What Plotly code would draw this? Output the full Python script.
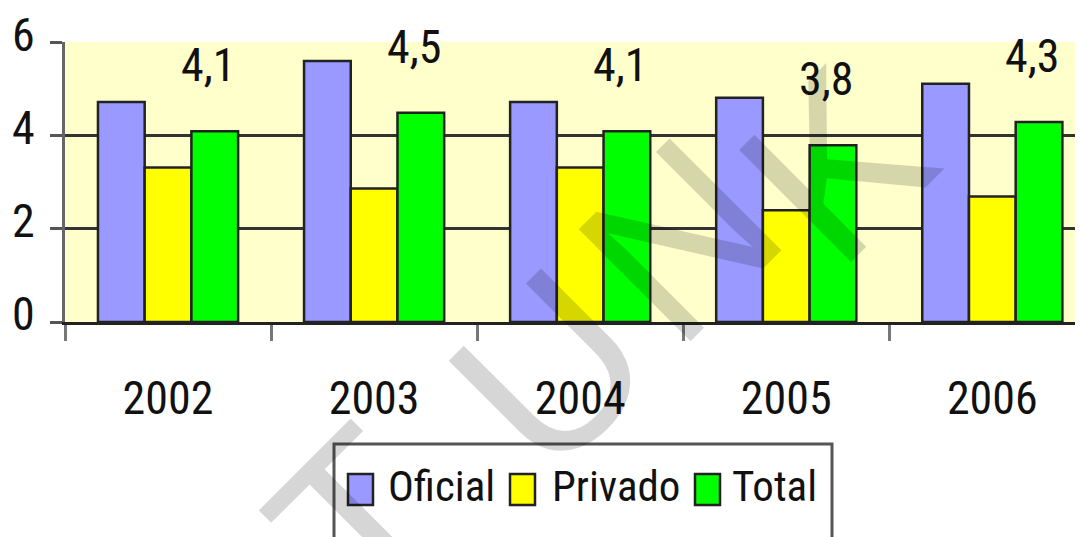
import plotly.graph_objects as go

# data
years = ["2002", "2003", "2004", "2005", "2006"]
oficial = [4.73, 5.61, 4.73, 4.82, 5.12]
privado = [3.32, 2.87, 3.32, 2.40, 2.70]
total = [4.1, 4.5, 4.1, 3.8, 4.3]
total_labels = ["4,1", "4,5", "4,1", "3,8", "4,3"]
series_names = ["Oficial", "Privado", "Total"]
series_colors = ["#9999FF", "#FFFF00", "#00FF00"]
watermark = ["T", "U", "N", "K"]

# the page body adds an 8px margin, so the figure is drawn 8px in from the corner
OFF = 8
W, H = 1083 - OFF, 537 - OFF
L, R, T, B = 65 - OFF, 1083 - OFF, 42 - OFF, 322 - OFF
FONT = "Roboto Condensed, Liberation Sans, Arial"


def px(x):
    # screen pixel -> paper x
    return (x - OFF - L) / (R - L)


def py(y):
    # screen pixel -> paper y
    return (B - (y - OFF)) / (B - T)


fig = go.Figure()
for name, vals, col in zip(series_names, [oficial, privado, total], series_colors):
    fig.add_trace(go.Bar(x=years, y=vals, name=name, marker_color=col,
                         marker_line_color="#222222", marker_line_width=2.5,
                         showlegend=False))

# value labels above the Total bars (category index on the x axis)
for i, (v, lab) in enumerate(zip(total, total_labels)):
    fig.add_annotation(x=i, y=v, text=lab, showarrow=False, xshift=40, yshift=66,
                       font=dict(family=FONT, size=46, color="#111111"))

# hand-drawn legend box
fig.add_shape(type="rect", xref="paper", yref="paper", x0=px(334), x1=px(832),
              y0=py(600), y1=py(444), line=dict(color="#555555", width=3),
              fillcolor="white", layer="above")
leg_sq = [348, 510, 695]
leg_tx = [386, 550, 730]
for name, col, sx, tx in zip(series_names, series_colors, leg_sq, leg_tx):
    fig.add_shape(type="rect", xref="paper", yref="paper", x0=px(sx), x1=px(sx + 25),
                  y0=py(505), y1=py(474), fillcolor=col,
                  line=dict(color="#222222", width=2.5), layer="above")
    fig.add_annotation(xref="paper", yref="paper", x=px(tx), y=py(486), text=name,
                       showarrow=False, xanchor="left", yanchor="middle",
                       font=dict(family=FONT, size=43, color="#111111"))

# watermark letters
wm_x = [360, 550, 680, 835]
wm_y = [520, 370, 240, 165]
for ch, wx, wy in zip(watermark, wm_x, wm_y):
    fig.add_annotation(xref="paper", yref="paper", x=px(wx), y=py(wy), text=ch,
                       showarrow=False, textangle=-45, xanchor="center", yanchor="middle",
                       font=dict(family="Liberation Sans, Arial", size=230,
                                 color="rgba(0,0,0,0.16)"))

fig.update_layout(
    width=W, height=H,
    margin=dict(l=L, r=W - R, t=T, b=H - B),
    paper_bgcolor="white", plot_bgcolor="#FFFFCC",
    barmode="group", bargap=0.32, bargroupgap=0,
    font=dict(family=FONT, size=46, color="#111111"),
)
fig.update_xaxes(type="category", range=[-0.5, 4.44], tickson="boundaries", ticks="outside",
                 ticklen=16, tickwidth=3, tickcolor="#777777", automargin=False,
                 showline=True, linecolor="#222222", linewidth=3,
                 ticklabelstandoff=34, tickfont=dict(family=FONT, size=46))
fig.update_yaxes(range=[0, 6.02], tickvals=[0, 2, 4, 6], ticks="outside", ticklen=12,
                 tickwidth=3, automargin=False,
                 tickcolor="#555555", showline=True, linecolor="#666666", linewidth=3,
                 gridcolor="#333333", gridwidth=3, zeroline=False,
                 ticklabelstandoff=6, ticklabelshift=-8,
                 tickfont=dict(family=FONT, size=46))

fig.write_html("out.html")
